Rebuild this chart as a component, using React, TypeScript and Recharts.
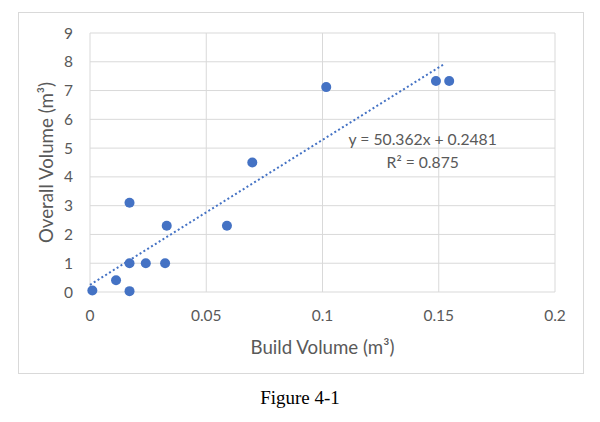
import React from "react";
import { ScatterChart, Scatter, XAxis, YAxis, CartesianGrid } from "recharts";

// points (build volume m3 vs overall volume m3)
const BUILD_VOLUME = [0.001, 0.0112, 0.017, 0.017, 0.017, 0.024, 0.0323, 0.033, 0.0589, 0.0698, 0.1016, 0.1488, 0.1545];
const OVERALL_VOLUME = [0.05, 0.41, 0.03, 1.0, 3.1, 1.0, 1.0, 2.3, 2.3, 4.5, 7.12, 7.33, 7.33];

// linear trendline ends, as drawn
const TREND_X = [0, 0.1527];
const TREND_Y = [0.25, 7.94];

const X_TICKS = [0, 0.05, 0.1, 0.15, 0.2];
const Y_TICKS = [0, 1, 2, 3, 4, 5, 6, 7, 8, 9];

const EQUATION = "y = 50.362x + 0.2481";
const R_SQUARED = "R² = 0.875";
const EQUATION_POS = { x: 0.1431, y: 4.92 };

const X_TITLE = "Build Volume (m³)";
const Y_TITLE = "Overall Volume (m³)";
const CAPTION = "Figure 4-1";

const BLUE = "#4472C4";
const TEXT = "#595959";
const GRID = "#D9D9D9";
const FONT = "Lato, 'Liberation Sans', sans-serif";

const points = BUILD_VOLUME.map((x, i) => ({ x, y: OVERALL_VOLUME[i] }));
const trend = TREND_X.map((x, i) => ({ x, y: TREND_Y[i] }));

const W = 566;
const H = 362;

export default function App() {
  return (
    <div style={{ position: "fixed", left: 0, top: 0, width: 600, height: 422, background: "#fff" }}>
      <div
        style={{
          position: "absolute",
          left: 18,
          top: 12,
          width: W,
          height: H,
          border: `1px solid ${GRID}`,
          boxSizing: "border-box",
        }}
      />
      <div style={{ position: "absolute", left: 18, top: 12 }}>
        <ScatterChart width={W} height={H} margin={{ top: 21, right: 29, left: 0, bottom: 22 }}>
          <CartesianGrid stroke={GRID} strokeWidth={1} />
          <XAxis
            dataKey="x"
            type="number"
            domain={[0, 0.2]}
            ticks={X_TICKS}
            height={60}
            axisLine={false}
            tickLine={false}
            tickSize={0}
            tickMargin={18}
            tick={{ fill: TEXT, fontSize: 15.5, fontFamily: FONT }}
            label={(props: any) => {
              const vb = props.viewBox;
              return (
                <text
                  x={vb.x + vb.width / 2}
                  y={vb.y + 55}
                  textAnchor="middle"
                  dominantBaseline="central"
                  fill={TEXT}
                  fontSize={18.7}
                  fontFamily={FONT}
                >
                  {X_TITLE}
                </text>
              );
            }}
          />
          <YAxis
            dataKey="y"
            type="number"
            domain={[0, 9]}
            ticks={Y_TICKS}
            width={72}
            axisLine={false}
            tickLine={false}
            tickSize={0}
            tickMargin={17}
            tick={{ fill: TEXT, fontSize: 15.5, fontFamily: FONT }}
            label={(props: any) => {
              const vb = props.viewBox;
              const cx = vb.x + 28;
              const cy = vb.y + vb.height / 2;
              return (
                <text
                  x={cx}
                  y={cy}
                  transform={`rotate(-90, ${cx}, ${cy})`}
                  textAnchor="middle"
                  dominantBaseline="central"
                  fill={TEXT}
                  fontSize={18.7}
                  fontFamily={FONT}
                >
                  {Y_TITLE}
                </text>
              );
            }}
          />
          <Scatter
            data={trend}
            line={{ stroke: BLUE, strokeWidth: 2, strokeDasharray: "2 2.5" }}
            shape={() => <g />}
            isAnimationActive={false}
          />
          <Scatter
            data={points}
            isAnimationActive={false}
            shape={(p: any) => <circle cx={p.cx} cy={p.cy} r={5} fill={BLUE} />}
          />
          <Scatter
            data={[EQUATION_POS]}
            isAnimationActive={false}
            shape={(p: any) => (
              <text textAnchor="middle" fill={TEXT} fontSize={15.7} fontFamily={FONT}>
                <tspan x={p.cx} y={p.cy - 11.3} dominantBaseline="central">
                  {EQUATION}
                </tspan>
                <tspan x={p.cx} y={p.cy + 11.3} dominantBaseline="central">
                  {R_SQUARED}
                </tspan>
              </text>
            )}
          />
        </ScatterChart>
      </div>
      <div
        style={{
          position: "absolute",
          left: 0,
          width: 600,
          top: 387,
          textAlign: "center",
          fontFamily: "'Liberation Serif', 'Times New Roman', serif",
          fontSize: 19,
          lineHeight: "22px",
          color: "#000",
        }}
      >
        {CAPTION}
      </div>
    </div>
  );
}
